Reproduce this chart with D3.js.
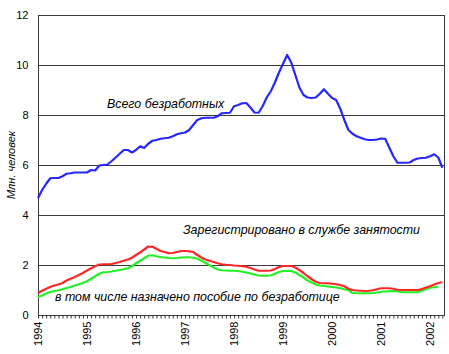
<!DOCTYPE html>
<html><head><meta charset="utf-8">
<script src="https://cdn.jsdelivr.net/npm/d3@7"></script>
<style>body{margin:0;background:#fff}svg{display:block}text{font-family:"Liberation Sans",Arial,sans-serif}</style>
</head><body>
<svg id="c" width="449" height="354"></svg>
<script>
// monthly series, Jan 1994 ...
const years = ["1994","1995","1996","1997","1998","1999","2000","2001","2002"];
const yTicks = [0,2,4,6,8,10,12];
const total = [4.67,5.0,5.25,5.47,5.48,5.48,5.55,5.65,5.67,5.7,5.7,5.7,
 5.7,5.8,5.78,5.98,6.0,6.02,6.15,6.3,6.45,6.6,6.6,6.5,
 6.6,6.75,6.68,6.85,6.97,7.0,7.05,7.07,7.09,7.15,7.23,7.27,
 7.3,7.4,7.6,7.8,7.87,7.89,7.89,7.89,7.95,8.07,8.08,8.09,
 8.35,8.4,8.47,8.48,8.3,8.1,8.09,8.35,8.7,8.95,9.3,9.7,
 10.05,10.4,10.1,9.6,9.1,8.8,8.7,8.68,8.7,8.85,9.03,8.85,
 8.68,8.6,8.25,7.8,7.4,7.25,7.15,7.09,7.03,7.0,7.0,7.02,
 7.06,7.05,6.7,6.35,6.09,6.09,6.09,6.1,6.2,6.26,6.28,6.29,
 6.35,6.43,6.3,5.89];
const registered = [0.88,0.97,1.05,1.12,1.18,1.22,1.28,1.38,1.45,1.52,1.6,1.68,
 1.78,1.87,1.95,2.02,2.03,2.03,2.04,2.08,2.12,2.17,2.22,2.29,
 2.4,2.5,2.62,2.74,2.73,2.65,2.56,2.52,2.47,2.48,2.52,2.56,
 2.56,2.55,2.52,2.4,2.3,2.22,2.17,2.12,2.07,2.03,2.01,2.0,
 1.98,1.97,1.95,1.93,1.88,1.82,1.77,1.77,1.77,1.78,1.84,1.92,
 1.96,1.96,1.96,1.9,1.8,1.68,1.55,1.43,1.33,1.28,1.27,1.27,
 1.25,1.23,1.2,1.15,1.05,1.0,0.98,0.97,0.96,0.97,0.99,1.03,
 1.07,1.07,1.07,1.05,1.01,1.0,1.0,1.0,1.0,1.0,1.04,1.1,
 1.15,1.22,1.28,1.31];
const benefit = [0.72,0.78,0.86,0.92,0.96,0.99,1.03,1.08,1.12,1.18,1.23,1.28,
 1.35,1.45,1.55,1.65,1.71,1.72,1.74,1.77,1.8,1.83,1.87,1.95,
 2.07,2.17,2.27,2.37,2.39,2.35,2.32,2.3,2.28,2.27,2.28,2.3,
 2.31,2.31,2.29,2.25,2.18,2.08,1.99,1.9,1.82,1.79,1.78,1.77,
 1.77,1.76,1.73,1.7,1.66,1.62,1.58,1.57,1.57,1.58,1.65,1.72,
 1.76,1.76,1.76,1.7,1.6,1.5,1.38,1.3,1.22,1.18,1.16,1.14,
 1.12,1.1,1.07,1.03,1.0,0.88,0.87,0.87,0.87,0.87,0.88,0.9,
 0.93,0.94,0.95,0.96,0.95,0.91,0.91,0.91,0.91,0.91,0.97,1.03,
 1.09,1.11,1.13];
const labels = {
  total: "Всего безработных",
  registered: "Зарегистрировано в службе занятости",
  benefit: "в том числе назначено пособие по безработице",
  yTitle: "Млн. человек"
};

const svg = d3.select("#c");
const L = 38, R = 444, T = 15, B = 315;
const x = d3.scaleLinear().domain([0, 99.4]).range([L, R]);
const y = d3.scaleLinear().domain([0, 12]).range([B, T]);
const grid = "#3a3a3a";

// grid lines
svg.append("g").selectAll("line").data(yTicks).join("line")
  .attr("x1", L).attr("x2", R)
  .attr("y1", d => Math.round(y(d)) + 0.5).attr("y2", d => Math.round(y(d)) + 0.5)
  .attr("stroke", grid).attr("stroke-width", 1);
// right border
svg.append("line").attr("x1", R + 0.5).attr("x2", R + 0.5).attr("y1", T).attr("y2", B + 1)
  .attr("stroke", grid);

// y axis
const yAxis = svg.append("g").attr("transform", `translate(${L + 0.5},0)`)
  .call(d3.axisLeft(y).tickValues(yTicks).tickSize(0).tickPadding(10).tickFormat(d3.format("d")));
yAxis.select(".domain").attr("stroke", grid).attr("d", `M0,${T}V${B + 3}`);
yAxis.selectAll("text").attr("font-size", 11).attr("fill", "#000")
  .attr("font-family", "'Liberation Sans',Arial,sans-serif");

// x axis minor (monthly) ticks
const months = d3.range(0, 100);
const xMinor = svg.append("g").attr("transform", `translate(0,${B + 0.5})`)
  .call(d3.axisBottom(x).tickValues(months).tickSize(3).tickFormat(""));
xMinor.select(".domain").attr("stroke", grid).attr("d", `M${L},0H${R + 1}`);
xMinor.selectAll(".tick line").attr("stroke", grid);

// year labels
const xYears = svg.append("g").attr("transform", `translate(0,${B + 0.5})`)
  .call(d3.axisBottom(x).tickValues(years.map((d, i) => i * 12)).tickSize(0)
    .tickFormat((d, i) => years[i]));
xYears.select(".domain").remove();
xYears.selectAll("text")
  .attr("font-size", 11).attr("fill", "#000")
  .attr("font-family", "'Liberation Sans',Arial,sans-serif")
  .attr("transform", "rotate(-90)")
  .attr("text-anchor", "end").attr("dy", "0.35em").attr("y", 0).attr("x", -6);

// y title
svg.append("text").attr("transform", "translate(15,165) rotate(-90)")
  .attr("text-anchor", "middle").attr("font-size", 11).attr("font-style", "italic").text(labels.yTitle);

// lines
const line = d3.line().x((d, i) => x(i)).y(d => y(d));
const series = [[benefit, "#22f022"], [registered, "#ff2626"], [total, "#2626ff"]];
svg.append("g").selectAll("path").data(series).join("path")
  .attr("d", d => line(d[0])).attr("fill", "none")
  .attr("stroke", d => d[1]).attr("stroke-width", 2.2).attr("stroke-linejoin", "round");

// annotations
const ann = [[labels.total, 107, 108], [labels.registered, 183, 234], [labels.benefit, 55, 301]];
svg.append("g").selectAll("text").data(ann).join("text")
  .attr("x", d => d[1]).attr("y", d => d[2]).attr("font-size", 12.4).attr("font-style", "italic")
  .attr("fill", "#000").text(d => d[0]);
</script>
</body></html>
